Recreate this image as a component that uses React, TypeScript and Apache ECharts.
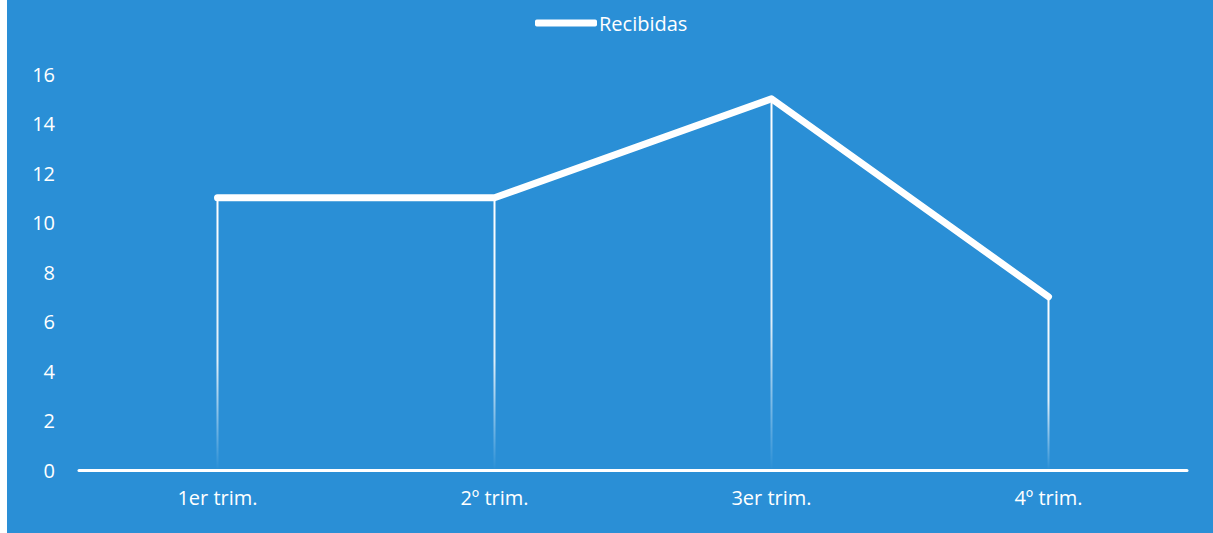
import React, { useEffect, useRef } from "react";
import * as echarts from "echarts";

const categories = ["1er trim.", "2º trim.", "3er trim.", "4º trim."];
const recibidas = [11, 11, 15, 7];
const yTicks = { min: 0, max: 16, interval: 2 };

export default function App() {
  const ref = useRef<HTMLDivElement>(null);
  useEffect(() => {
    if (!ref.current) return;
    const chart = echarts.init(ref.current, undefined, { renderer: "svg" });
    chart.setOption({
      animation: false,
      backgroundColor: "#2a8fd6",
      legend: {
        data: ["Recibidas"],
        top: 8,
        left: 523,
        icon: "roundRect",
        itemWidth: 62,
        itemHeight: 7,
        itemGap: 4,
        textStyle: { color: "#ffffff", fontSize: 20, fontFamily: "Open Sans", padding: [0, 0, 0, -3] },
        itemStyle: { color: "#ffffff" },
      },
      grid: { left: 72, right: 26, top: 74, bottom: 63, containLabel: false },
      xAxis: {
        type: "category",
        data: categories,
        boundaryGap: true,
        axisLine: { show: true, lineStyle: { color: "#ffffff", width: 3 } },
        axisTick: { show: false },
        axisLabel: { color: "#ffffff", fontSize: 20, fontFamily: "Open Sans", margin: 17 },
        splitLine: { show: false },
      },
      yAxis: {
        type: "value",
        min: yTicks.min,
        max: yTicks.max,
        interval: yTicks.interval,
        axisLine: { show: false },
        axisTick: { show: false },
        splitLine: { show: false },
        axisLabel: { color: "#ffffff", fontSize: 20, fontFamily: "Open Sans", margin: 24 },
      },
      series: [
        {
          name: "drop",
          type: "bar",
          data: recibidas,
          barWidth: 2,
          barGap: "-100%",
          silent: true,
          itemStyle: {
            color: new echarts.graphic.LinearGradient(0, 0, 0, 1, [
              { offset: 0, color: "rgba(255,255,255,1)" },
              { offset: 0.6, color: "rgba(255,255,255,0.85)" },
              { offset: 1, color: "rgba(255,255,255,0)" },
            ]),
          },
        },
        {
          name: "Recibidas",
          type: "line",
          data: recibidas,
          symbol: "none",
          lineStyle: { color: "#ffffff", width: 7, cap: "round", join: "round" },
          itemStyle: { color: "#ffffff" },
          z: 5,
        },
      ],
    });
    return () => chart.dispose();
  }, []);
  return (
    <div
      ref={ref}
      style={{ position: "fixed", left: 7, top: 0, width: 1206, height: 533 }}
    />
  );
}
